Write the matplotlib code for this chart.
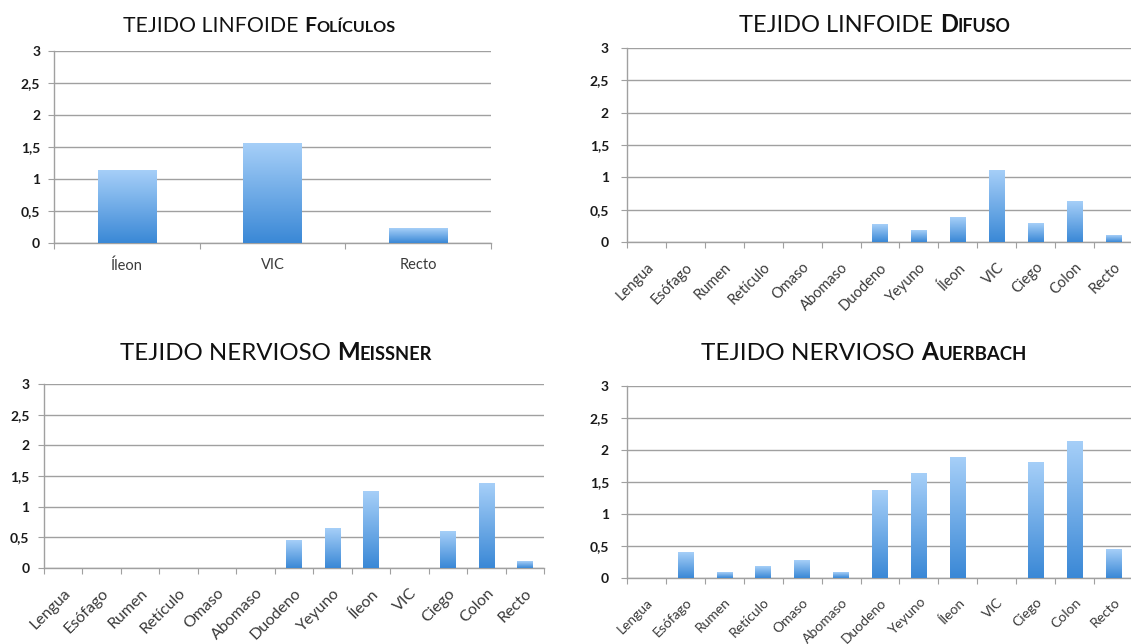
import numpy as np
import matplotlib
matplotlib.use('Agg')
import matplotlib.pyplot as plt
from matplotlib.colors import LinearSegmentedColormap
from matplotlib.ticker import FixedLocator, FuncFormatter

# ── DATOS ─────────────────────────────────────────────────────────────────────
ORGANOS = ["Lengua", "Esófago", "Rumen", "Retículo", "Omaso", "Abomaso",
           "Duodeno", "Yeyuno", "Íleon", "VIC", "Ciego", "Colon", "Recto"]
FOLICULOS_CAT = ["Íleon", "VIC", "Recto"]

foliculos = [1.13, 1.55, 0.22]
difuso    = [0, 0, 0, 0, 0, 0, 0.27, 0.18, 0.38, 1.11, 0.29, 0.63, 0.10]
meissner  = [0, 0, 0, 0, 0, 0, 0.45, 0.64, 1.25, 0, 0.60, 1.37, 0.11]
auerbach  = [0, 0.40, 0.08, 0.18, 0.27, 0.08, 1.36, 1.64, 1.88, 0, 1.80, 2.13, 0.44]

Y_TICKS = [0, 0.5, 1, 1.5, 2, 2.5, 3]

# ── ESTILO ────────────────────────────────────────────────────────────────────
W, H = 1131, 644
FONT = ['Lato', 'DejaVu Sans']
plt.rcParams['font.family'] = FONT
GRID = '#a0a0a0'
cmap = LinearSegmentedColormap.from_list('excel', ['#3a88d6', '#a6cff8'])


def px_axes(fig, left, top, right, bottom):
    # caja en píxeles (desde arriba) -> fracción de figura
    return fig.add_axes([left / W, 1 - bottom / H, (right - left) / W, (bottom - top) / H])


def gradient_bars(ax, bars):
    grad = np.linspace(0, 1, 256).reshape(-1, 1)
    for b in bars:
        h = b.get_height()
        if h <= 0:
            continue
        x, y, w = b.get_x(), b.get_y(), b.get_width()
        ax.imshow(grad, cmap=cmap, extent=(x, x + w, y, y + h),
                  aspect='auto', origin='lower', zorder=3)
        b.set_visible(False)


def bar_panel(ax, cats, vals, rotate, xsize, ypad):
    n = len(cats)
    pos = np.arange(n) + 0.5
    bars = ax.bar(pos, vals, width=0.4, color='#6aa9e9', zorder=3)
    gradient_bars(ax, bars)
    ax.set_xlim(0, n)
    ax.set_ylim(0, 3)

    ax.yaxis.set_major_locator(FixedLocator(Y_TICKS))
    ax.yaxis.set_major_formatter(FuncFormatter(lambda v, p: f"{v:g}".replace('.', ',')))
    ax.grid(axis='y', color=GRID, lw=1.0, zorder=0)
    ax.set_axisbelow(True)

    # marcas entre categorías, etiquetas al centro (estilo Excel)
    ax.xaxis.set_major_locator(FixedLocator(np.arange(n + 1)))
    ax.xaxis.set_minor_locator(FixedLocator(pos))
    ax.set_xticklabels([], minor=False)
    ax.set_xticklabels(cats, minor=True)
    ax.tick_params(axis='x', which='major', length=4, color=GRID, direction='out')
    ax.tick_params(axis='x', which='minor', length=0, labelsize=xsize,
                   labelcolor='#3a3a3a', pad=13 if rotate else 11)
    ax.tick_params(axis='y', length=4, color=GRID, labelsize=10,
                   labelcolor='#1a1a1a', pad=ypad)
    for lab in ax.get_yticklabels():
        lab.set_fontweight('bold')
    if rotate:
        for lab in ax.get_xticklabels(minor=True):
            lab.set_rotation(45)
            lab.set_ha('right')
            lab.set_va('top')
            lab.set_rotation_mode('anchor')

    for s in ('top', 'right'):
        ax.spines[s].set_visible(False)
    for s in ('left', 'bottom'):
        ax.spines[s].set_color(GRID)
        ax.spines[s].set_linewidth(1.0)


def titulo(fig, cx, base, normal, inicial, resto, size=15):
    r = fig.canvas.get_renderer()
    y = 1 - base / H
    partes = [
        fig.text(0, y, normal, fontsize=size, va='baseline', color='#111111'),
        fig.text(0, y, inicial, fontsize=size, weight='bold', va='baseline', color='#111111'),
        fig.text(0, y, resto, fontsize=size * 0.76, weight='bold', va='baseline', color='#111111'),
    ]
    gap = size * 0.28 * fig.dpi / 72
    anchos = [t.get_window_extent(r).width for t in partes]
    total = sum(anchos) + gap
    x = cx - total / 2
    for i, (t, w) in enumerate(zip(partes, anchos)):
        t.set_x(x / W)
        x += w + (gap if i == 0 else 0)


fig = plt.figure(figsize=(W / 100, H / 100), dpi=100)

ax1 = px_axes(fig, 54, 51, 491, 243)
bar_panel(ax1, FOLICULOS_CAT, foliculos, rotate=False, xsize=10.5, ypad=6)

ax2 = px_axes(fig, 627, 48, 1133, 242)
bar_panel(ax2, ORGANOS, difuso, rotate=True, xsize=10.5, ypad=9)

ax3 = px_axes(fig, 44, 384, 544, 568)
bar_panel(ax3, ORGANOS, meissner, rotate=True, xsize=11.5, ypad=6.5)

ax4 = px_axes(fig, 627, 386, 1133, 578)
bar_panel(ax4, ORGANOS, auerbach, rotate=True, xsize=10, ypad=9)

fig.canvas.draw()
titulo(fig, 259, 32, "TEJIDO LINFOIDE", "F", "OLÍCULOS", size=15.3)
titulo(fig, 875, 32, "TEJIDO LINFOIDE", "D", "IFUSO", size=17)
titulo(fig, 276, 360, "TEJIDO NERVIOSO", "M", "EISSNER", size=17.3)
titulo(fig, 864, 360, "TEJIDO NERVIOSO", "A", "UERBACH", size=17.6)

fig.savefig("out.png", dpi=100, facecolor='white')
